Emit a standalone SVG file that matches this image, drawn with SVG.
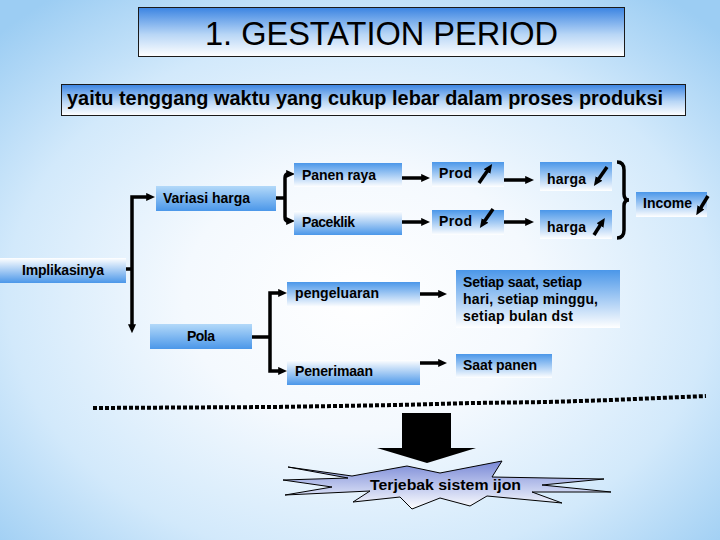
<svg xmlns="http://www.w3.org/2000/svg" width="720" height="540" viewBox="0 0 720 540">
<defs>
  <radialGradient id="bg" cx="50%" cy="55%" r="70%">
    <stop offset="0" stop-color="#ffffff"/>
    <stop offset="0.35" stop-color="#f4f9fe"/>
    <stop offset="0.7" stop-color="#d2e9fb"/>
    <stop offset="1" stop-color="#9ccdf3"/>
  </radialGradient>
  <linearGradient id="gTitle" x1="0" y1="0" x2="0" y2="1">
    <stop offset="0" stop-color="#3b84e2"/>
    <stop offset="0.55" stop-color="#b8d6f6"/>
    <stop offset="1" stop-color="#ffffff"/>
  </linearGradient>
  <linearGradient id="gDown" x1="0" y1="0" x2="0" y2="1">
    <stop offset="0" stop-color="#4b97e9"/>
    <stop offset="1" stop-color="#ffffff"/>
  </linearGradient>
  <linearGradient id="gUp" x1="0" y1="0" x2="0" y2="1">
    <stop offset="0" stop-color="#ffffff"/>
    <stop offset="1" stop-color="#4b97e9"/>
  </linearGradient>
  <linearGradient id="gMid" x1="0" y1="0" x2="0" y2="1">
    <stop offset="0" stop-color="#b3d9f9"/>
    <stop offset="1" stop-color="#4b97e9"/>
  </linearGradient>
  <linearGradient id="gStar" x1="0" y1="0" x2="0" y2="1">
    <stop offset="0" stop-color="#7888d6"/>
    <stop offset="0.6" stop-color="#c8d0f0"/>
    <stop offset="1" stop-color="#ffffff"/>
  </linearGradient>
  <marker id="ah" viewBox="0 0 10 10" refX="2" refY="5" markerWidth="9" markerHeight="9" markerUnits="userSpaceOnUse" orient="auto-start-reverse">
    <path d="M0,0.5 L10,5 L0,9.5 Z" fill="#000"/>
  </marker>
</defs>
<style>
  .t { font-family: "Liberation Sans", Arial, sans-serif; font-weight: bold; font-size: 14px; fill: #000; }
  .c { stroke: #000; stroke-width: 3.5; fill: none; }
  .d { stroke: #000; stroke-width: 3.5; fill: none; marker-end: url(#ah); }
  .frame { stroke: #1a1a1a; stroke-width: 1; }
</style>
<rect x="0" y="0" width="720" height="540" fill="url(#bg)"/>

<g id="title">
  <rect class="frame" x="138.5" y="7.5" width="486" height="49" fill="url(#gTitle)"/>
  <text x="205" y="45" font-family="'Liberation Sans', Arial, sans-serif" font-size="34" textLength="353" lengthAdjust="spacingAndGlyphs" fill="#000">1. GESTATION PERIOD</text>
</g>
<g id="definition">
  <rect class="frame" x="61.5" y="84.5" width="624" height="31" fill="url(#gTitle)"/>
  <text x="67" y="105" font-family="'Liberation Sans', Arial, sans-serif" font-weight="bold" font-size="20" textLength="596" lengthAdjust="spacingAndGlyphs" fill="#000">yaitu tenggang waktu yang cukup lebar dalam proses produksi</text>
</g>

<g id="connectors">
  <path class="c" d="M126,269 H132"/>
  <path class="c" d="M132,326 V197 H148" marker-start="url(#ah)" marker-end="url(#ah)"/>
  <path class="c" d="M276,198 H285"/>
  <path class="c" d="M288,174 Q285,174 285,178 V217 Q285,221 288,221" marker-start="url(#ah)" marker-end="url(#ah)"/>
  <path class="d" d="M402,178 H423"/>
  <path class="d" d="M504,180 H527"/>
  <path class="d" d="M402,222 H423"/>
  <path class="d" d="M504,222 H527"/>
  <path class="c" d="M617,162 Q624,162 624,170 V194 Q624,200 629,200 Q624,200 624,206 V230 Q624,238 617,238"/>
  <path class="c" d="M252,337 H270"/>
  <path class="c" d="M280,293 H270 V371 H280" marker-start="url(#ah)" marker-end="url(#ah)"/>
  <path class="d" d="M420,294 H440"/>
  <path class="d" d="M420,363 H440"/>
  <polyline points="93,408 273,407 398,405 472,403 548,402 611,400 706,396" fill="none" stroke="#000" stroke-width="4" stroke-dasharray="4 2"/>
  <polygon points="402,413 451,413 451,448 476,448 427,463 377,448 402,448" fill="#000"/>
</g>

<g id="variasi-harga">
  <rect x="156" y="186" width="120" height="25" fill="url(#gMid)"/>
  <text class="t" x="163" y="203" textLength="87">Variasi harga</text>
</g>
<g id="panen-raya">
  <rect x="294" y="163" width="108" height="24" fill="url(#gDown)"/>
  <text class="t" x="302" y="180" textLength="74">Panen raya</text>
</g>
<g id="paceklik">
  <rect x="294" y="211" width="108" height="24" fill="url(#gUp)"/>
  <text class="t" x="302" y="227" textLength="53">Paceklik</text>
</g>
<g id="prod-up">
  <rect x="432" y="162" width="72" height="25" fill="url(#gDown)"/>
  <text class="t" x="439" y="178" textLength="33">Prod</text>
  <path class="d" d="M479,183 L488,170"/>
</g>
<g id="harga-down">
  <rect x="540" y="162" width="72" height="29" fill="url(#gDown)"/>
  <text class="t" x="547" y="184" textLength="39">harga</text>
  <path class="d" d="M607,167 L598,180"/>
</g>
<g id="prod-down">
  <rect x="432" y="210" width="72" height="25" fill="url(#gDown)"/>
  <text class="t" x="439" y="226" textLength="33">Prod</text>
  <path class="d" d="M493,209 L484,222"/>
</g>
<g id="harga-up">
  <rect x="540" y="210" width="72" height="29" fill="url(#gDown)"/>
  <text class="t" x="547" y="232" textLength="39">harga</text>
  <path class="d" d="M594,235 L601,224"/>
</g>
<g id="income">
  <rect x="636" y="192" width="71" height="25" fill="url(#gDown)"/>
  <text class="t" x="643" y="208" textLength="49">Income</text>
  <path class="d" d="M708,196 L700,209"/>
</g>
<g id="implikasinya">
  <rect x="0" y="258" width="126" height="25" fill="url(#gUp)"/>
  <text class="t" x="22" y="275" textLength="82">Implikasinya</text>
</g>
<g id="pola">
  <rect x="150" y="324" width="102" height="25" fill="url(#gMid)"/>
  <text class="t" x="187" y="341" textLength="28">Pola</text>
</g>
<g id="pengeluaran">
  <rect x="287" y="282" width="133" height="25" fill="url(#gDown)"/>
  <text class="t" x="295" y="298" textLength="84">pengeluaran</text>
</g>
<g id="penerimaan">
  <rect x="287" y="360" width="133" height="25" fill="url(#gUp)"/>
  <text class="t" x="295" y="376" textLength="78">Penerimaan</text>
</g>
<g id="setiap">
  <rect x="456" y="270" width="164" height="58" fill="url(#gDown)"/>
  <text class="t" x="463" y="287" textLength="119">Setiap saat, setiap</text>
  <text class="t" x="463" y="304" textLength="135">hari, setiap minggu,</text>
  <text class="t" x="463" y="321" textLength="110">setiap bulan dst</text>
</g>
<g id="saat-panen">
  <rect x="456" y="354" width="96" height="24" fill="url(#gDown)"/>
  <text class="t" x="463" y="370" textLength="74">Saat panen</text>
</g>
<g id="terjebak">
  <polygon points="288,467 352,476 407,466 440,473 502,461 492,477 604,479 542,485 611,492 532,492 562,503 487,496 470,506 440,498 412,509 400,497 353,502 370,491 285,495 332,487 283,480 348,478" fill="url(#gStar)" stroke="#000" stroke-width="1"/>
  <text class="t" x="370" y="490" font-size="16" textLength="151" lengthAdjust="spacingAndGlyphs">Terjebak sistem ijon</text>
</g>
</svg>
